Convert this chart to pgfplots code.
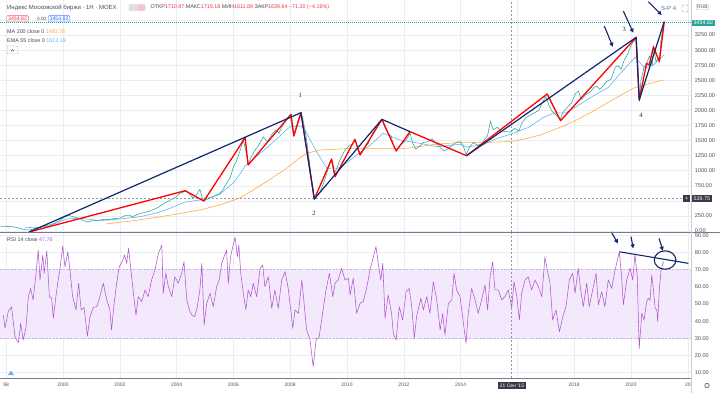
\documentclass[border=0pt]{standalone}
\usepackage{fontspec}
\setmainfont{Liberation Sans}
\newfontfamily\serifnum{Liberation Serif}
\usepackage{pgfplots}
\pgfplotsset{compat=1.18}
\usetikzlibrary{arrows.meta}
\definecolor{gridc}{RGB}{234,237,244}
\definecolor{candle}{RGB}{38,166,154}
\definecolor{candred}{RGB}{239,83,80}
\definecolor{maorange}{RGB}{255,172,64}
\definecolor{emablue}{RGB}{100,180,240}
\definecolor{navyc}{RGB}{18,38,110}
\definecolor{zzred}{RGB}{255,0,0}
\definecolor{rsipurple}{RGB}{176,86,206}
\definecolor{bandc}{RGB}{243,230,252}
\definecolor{banddash}{RGB}{200,182,216}
\definecolor{labc}{RGB}{80,84,95}
\definecolor{txtc}{RGB}{70,74,85}
\definecolor{darklab}{RGB}{54,58,69}
\definecolor{sepc}{RGB}{120,123,134}
\definecolor{crossc}{RGB}{150,152,161}
\definecolor{hdrred}{RGB}{242,54,69}
\definecolor{hdrblue}{RGB}{41,98,255}
\newcommand\fs[1]{\fontsize{#1}{#1}\selectfont}
\pgfplotsset{tvaxis/.style={
  scale only axis, width=691bp,
  xmin=1997.782, xmax=2022.113,
  axis line style={draw=none}, major tick length=0pt,
  grid=major, grid style={draw=gridc, line width=0.5pt},
  xtick={1998,2000,...,2022},
  scaled x ticks=false, scaled y ticks=false,
  yticklabel pos=right,
  /pgf/number format/assume math mode=true,
  yticklabel style={font=\fs{5.6}, text=labc, anchor=west, xshift=0.3bp},
  xticklabel style={font=\fs{5}, text=labc, yshift=-1.2bp},
  clip=false,
}}
\begin{document}
\begin{tikzpicture}
\useasboundingbox (0,0) rectangle (720bp,-393bp);
\fill[white] (0,0) rectangle (720bp,-393bp);
% ---------------- price panel ----------------
\begin{axis}[tvaxis, at={(0,0)}, anchor=north west, height=232bp,
  ymin=-16.6, ymax=3830.8, ytick={0,250,...,3500},
  yticklabels={0.00,250.00,,750.00,1000.00,1250.00,1500.00,1750.00,2000.00,2250.00,2500.00,2750.00,3000.00,3250.00,},
  xticklabels={}]
% crosshair and price lines
\addplot[crossc, line width=0.5pt, dash pattern=on 2bp off 2bp] coordinates {(2015.80,-16.6) (2015.80,3830.8)};
\addplot[crossc, line width=0.5pt, dash pattern=on 2bp off 2bp] coordinates {(1997.782,539.75) (2022.113,539.75)};
\addplot[candle, line width=0.5pt, dash pattern=on 1bp off 1bp] coordinates {(1997.782,3454.82) (2022.113,3454.82)};
% MA 200
\addplot[maorange, line width=0.6pt] coordinates {
(2001.50,116) (2002.30,160) (2003.06,210) (2004.00,280) (2004.82,348) (2005.50,431)
(2006.20,542) (2006.70,680) (2007.30,860) (2007.88,1040) (2008.30,1200) (2008.58,1289)
(2009.05,1343) (2010.20,1371) (2012.10,1371) (2013.16,1440) (2014.00,1470) (2015.00,1470)
(2015.80,1484) (2016.30,1530) (2016.80,1592) (2017.40,1700) (2017.97,1813) (2018.60,1970)
(2019.14,2118) (2019.60,2240) (2020.08,2367) (2020.60,2440) (2021.14,2504)};
% EMA 55
\addplot[emablue, line width=0.6pt] coordinates {
(1998.66,61) (1999.00,55) (1999.50,80) (2000.13,200) (2000.60,215) (2001.30,171)
(2002.00,200) (2002.71,237) (2003.30,300) (2003.77,376) (2004.30,480) (2004.82,514)
(2005.50,600) (2006.00,800) (2006.21,929) (2006.41,1080) (2006.80,1230) (2007.30,1430)
(2007.99,1730) (2008.40,1740) (2008.52,1675) (2008.93,1315) (2009.29,1040) (2009.75,1045)
(2010.34,1260) (2010.80,1420) (2011.28,1620) (2011.87,1509) (2012.57,1454) (2013.16,1398)
(2013.98,1438) (2014.20,1393) (2014.80,1430) (2015.20,1520) (2015.80,1613) (2016.40,1720)
(2016.90,1880) (2017.30,1960) (2017.70,1960) (2018.20,2100) (2018.70,2250) (2019.20,2380)
(2019.60,2600) (2020.14,2880) (2020.30,2800) (2020.50,2700) (2020.80,2760) (2021.17,2920)};
% price (close)
\addplot[candle, line width=0.55pt] coordinates {
(1997.80,75) (1997.95,80) (1998.10,72) (1998.25,70) (1998.40,55) (1998.55,35) (1998.70,20)
(1998.80,15) (1998.90,25) (1999.00,40) (1999.15,55) (1999.30,75) (1999.45,90) (1999.60,110)
(1999.75,140) (1999.90,180) (2000.05,230) (2000.20,260) (2000.30,245) (2000.45,225)
(2000.60,200) (2000.75,170) (2000.85,150) (2001.00,165) (2001.15,175) (2001.30,182)
(2001.45,195) (2001.60,190) (2001.80,205) (2002.00,215) (2002.15,250) (2002.30,265)
(2002.45,240) (2002.60,270) (2002.75,295) (2002.90,310) (2003.05,330) (2003.20,360)
(2003.35,390) (2003.50,440) (2003.65,480) (2003.80,520) (2003.95,550) (2004.10,620)
(2004.25,650) (2004.36,660) (2004.48,600) (2004.59,542) (2004.70,600) (2004.82,690)
(2004.90,560) (2004.96,500) (2005.10,530) (2005.29,569) (2005.40,600) (2005.53,625)
(2005.65,700) (2005.76,790) (2005.90,900) (2006.00,1066) (2006.10,1150) (2006.21,1300)
(2006.35,1500) (2006.45,1300) (2006.52,1110) (2006.60,1200) (2006.75,1330) (2006.90,1430)
(2007.05,1560) (2007.20,1480) (2007.35,1600) (2007.50,1680) (2007.60,1620) (2007.75,1760)
(2007.90,1880) (2008.00,1920) (2008.07,1700) (2008.13,1590) (2008.22,1750) (2008.32,1900)
(2008.38,1950) (2008.45,1850) (2008.55,1600) (2008.65,1250) (2008.75,850) (2008.85,540)
(2008.95,590) (2009.05,650) (2009.15,760) (2009.25,900) (2009.35,1050) (2009.45,1180)
(2009.55,950) (2009.65,1050) (2009.75,1180) (2009.90,1320) (2010.05,1400) (2010.20,1450)
(2010.30,1500) (2010.40,1320) (2010.50,1300) (2010.60,1380) (2010.75,1450) (2010.90,1620)
(2011.05,1720) (2011.15,1800) (2011.23,1840) (2011.35,1700) (2011.45,1620) (2011.55,1580)
(2011.65,1400) (2011.75,1330) (2011.85,1420) (2011.95,1450) (2012.10,1520) (2012.22,1620)
(2012.32,1450) (2012.42,1360) (2012.55,1400) (2012.70,1470) (2012.85,1480) (2013.00,1530)
(2013.10,1470) (2013.25,1400) (2013.40,1330) (2013.55,1360) (2013.70,1420) (2013.85,1470)
(2014.00,1480) (2014.10,1400) (2014.20,1270) (2014.30,1380) (2014.45,1470) (2014.60,1420)
(2014.75,1450) (2014.85,1520) (2014.95,1580) (2015.05,1820) (2015.15,1680) (2015.30,1720)
(2015.45,1640) (2015.60,1650) (2015.75,1640) (2015.90,1700) (2016.05,1660) (2016.15,1780)
(2016.30,1880) (2016.45,1920) (2016.60,1960) (2016.75,2000) (2016.90,2150) (2017.00,2230)
(2017.10,2100) (2017.20,2000) (2017.35,1930) (2017.50,1850) (2017.60,1960) (2017.75,2050)
(2017.90,2120) (2018.05,2280) (2018.15,2320) (2018.25,2180) (2018.40,2260) (2018.55,2300)
(2018.70,2380) (2018.80,2400) (2018.90,2350) (2019.00,2400) (2019.15,2480) (2019.30,2520)
(2019.45,2720) (2019.55,2740) (2019.65,2680) (2019.75,2820) (2019.90,2950) (2020.00,3080)
(2020.10,3150) (2020.18,3210) (2020.22,2900) (2020.27,2400) (2020.30,2150) (2020.35,2500)
(2020.45,2700) (2020.55,2780) (2020.65,2900) (2020.75,2750) (2020.80,3050) (2020.88,2800)
(2020.95,2880) (2021.00,2820) (2021.05,3150) (2021.12,3350) (2021.17,3455)};
% red zigzag
\addplot[zzred, line width=1.3pt, line join=round] coordinates {
(1998.81,-16) (2004.30,668) (2004.96,497) (2006.21,1398) (2006.41,1554) (2006.52,1095)
(2008.03,1935) (2008.13,1575) (2008.38,1962) (2008.85,530) (2009.46,1194) (2009.58,900)
(2010.28,1520) (2010.46,1260) (2011.23,1852) (2011.73,1327) (2012.22,1647) (2014.21,1249)
(2017.05,2272) (2017.52,1829) (2020.18,3212) (2020.29,2172) (2020.55,2781) (2020.64,2753)
(2020.79,3056) (2021.00,2808) (2021.17,3471)};
% navy trend lines
\addplot[navyc, line width=1.2pt, line join=round] coordinates {
(1998.81,-16) (2008.38,1962) (2008.85,530) (2011.23,1852) (2012.22,1647)};
\addplot[navyc, line width=1.2pt, line join=round] coordinates {
(2014.21,1249) (2020.18,3212) (2020.29,2172) (2021.17,3471)};
% arrows
\draw[navyc, line width=1.1pt, -{Triangle[length=4bp,width=4bp]}] (axis cs:2019.06,3400) -- (axis cs:2019.36,3056);
\draw[navyc, line width=1.1pt, -{Triangle[length=4bp,width=4bp]}] (axis cs:2019.73,3648) -- (axis cs:2020.08,3289);
\draw[navyc, line width=1.1pt, -{Triangle[length=4bp,width=4bp]}] (axis cs:2020.61,3803) -- (axis cs:2021.08,3582);
% wave labels
\node[font=\serifnum\fs{6.5}, text=navyc!80!black] at (axis cs:2008.35,2255) {1};
\node[font=\serifnum\fs{6.5}, text=navyc!80!black] at (axis cs:2008.84,298) {2};
\node[font=\serifnum\fs{6.5}, text=navyc!80!black] at (axis cs:2019.76,3345) {3};
\node[font=\serifnum\fs{6.5}, text=navyc!80!black] at (axis cs:2020.35,1924) {4};
\coordinate (lastp) at (axis cs:2022.113,3454.82);
\coordinate (crossp) at (axis cs:2022.113,539.75);
\end{axis}
% ---------------- RSI panel ----------------
\begin{axis}[tvaxis, at={(0,-232bp)}, anchor=north west, height=146bp,
  ymin=6.92, ymax=91.8, ytick={10,20,...,90},
  yticklabels={10.00,20.00,30.00,40.00,50.00,60.00,70.00,80.00,90.00},
  xticklabels={98,2000,2002,2004,2006,2008,2010,2012,2014,,2018,2020,20}]
\addplot[draw=none, fill=bandc, fill opacity=0.85] coordinates {(1997.782,30) (2022.113,30) (2022.113,70) (1997.782,70) (1997.782,30)};
\addplot[banddash, line width=0.5pt, dash pattern=on 2bp off 1.5bp] coordinates {(1997.782,30) (2022.113,30)};
\addplot[banddash, line width=0.5pt, dash pattern=on 2bp off 1.5bp] coordinates {(1997.782,70) (2022.113,70)};
\addplot[crossc, line width=0.5pt, dash pattern=on 2bp off 2bp] coordinates {(2015.80,6.92) (2015.80,91.8)};
\addplot[rsipurple, line width=0.55pt, line join=round] coordinates {
(1997.90,43.5) (1997.96,35.8) (1998.07,45.5) (1998.19,48.4) (1998.31,30.9) (1998.43,27.4)
(1998.51,38.7) (1998.60,29.0) (1998.70,36.7) (1998.78,54.2) (1998.86,59.0) (1998.95,52.3)
(1999.05,67.8) (1999.13,81.3) (1999.19,63.9) (1999.29,78.4) (1999.34,67.8) (1999.43,80.9)
(1999.52,54.2) (1999.60,53.3) (1999.66,41.6) (1999.75,54.2) (1999.83,63.9) (1999.89,69.7)
(1999.99,83.7) (2000.07,71.6) (2000.17,80.3) (2000.25,68.7) (2000.34,54.2) (2000.46,46.5)
(2000.55,62.0) (2000.64,46.5) (2000.74,48.0) (2000.86,31.3) (2000.95,42.6) (2001.07,48.0)
(2001.19,48.4) (2001.30,54.2) (2001.42,62.0) (2001.54,52.3) (2001.65,46.5) (2001.71,34.8)
(2001.80,50.3) (2001.89,62.0) (2001.98,71.6) (2002.08,74.5) (2002.17,78.4) (2002.24,73.6)
(2002.31,82.3) (2002.38,71.6) (2002.48,56.2) (2002.57,43.5) (2002.65,54.2) (2002.77,51.3)
(2002.89,58.1) (2003.00,54.2) (2003.12,63.9) (2003.24,69.7) (2003.36,79.4) (2003.48,84.2)
(2003.53,56.2) (2003.62,67.8) (2003.71,60.0) (2003.83,54.2) (2003.94,65.8) (2004.06,62.0)
(2004.18,67.8) (2004.26,74.5) (2004.36,52.3) (2004.45,46.5) (2004.54,43.5) (2004.64,42.6)
(2004.73,48.4) (2004.82,58.1) (2004.89,73.6) (2004.97,37.7) (2005.06,50.3) (2005.18,56.2)
(2005.29,48.4) (2005.41,60.0) (2005.50,63.9) (2005.59,73.6) (2005.67,77.4) (2005.76,81.3)
(2005.82,62.0) (2005.90,77.4) (2005.98,83.3) (2006.06,88.7) (2006.14,77.4) (2006.19,84.2)
(2006.26,67.8) (2006.35,56.2) (2006.44,46.5) (2006.52,58.1) (2006.61,54.2) (2006.70,62.0)
(2006.82,54.2) (2006.94,70.7) (2007.03,72.6) (2007.11,60.0) (2007.23,65.8) (2007.35,47.4)
(2007.46,58.1) (2007.58,47.4) (2007.70,63.9) (2007.82,68.7) (2007.93,59.0) (2008.02,46.5)
(2008.09,35.8) (2008.17,46.5) (2008.29,44.5) (2008.41,63.9) (2008.49,50.3) (2008.58,34.8)
(2008.70,29.0) (2008.81,13.5) (2008.91,29.0) (2009.02,30.9) (2009.14,44.5) (2009.26,58.1)
(2009.38,67.8) (2009.50,54.2) (2009.58,62.0) (2009.69,63.9) (2009.81,70.7) (2009.93,63.9)
(2010.05,64.9) (2010.11,55.2) (2010.22,64.9) (2010.34,44.5) (2010.46,50.3) (2010.57,51.3)
(2010.69,59.0) (2010.81,69.7) (2010.93,77.4) (2011.02,83.3) (2011.10,73.6) (2011.19,63.9)
(2011.26,73.6) (2011.34,41.6) (2011.45,55.2) (2011.57,44.5) (2011.63,32.9) (2011.73,29.0)
(2011.84,48.4) (2011.96,40.6) (2012.08,57.1) (2012.19,59.0) (2012.28,48.4) (2012.37,30.0)
(2012.45,42.6) (2012.60,53.3) (2012.69,46.5) (2012.81,54.2) (2012.92,44.5) (2013.04,62.9)
(2013.16,52.3) (2013.28,34.8) (2013.37,44.5) (2013.45,31.9) (2013.57,50.3) (2013.69,52.3)
(2013.77,67.8) (2013.86,58.1) (2013.98,54.2) (2014.10,38.7) (2014.19,27.1) (2014.27,44.5)
(2014.39,59.0) (2014.51,52.3) (2014.62,44.5) (2014.74,52.3) (2014.86,61.0) (2014.95,46.5)
(2015.04,65.8) (2015.13,74.5) (2015.21,58.1) (2015.33,58.1) (2015.45,52.3) (2015.56,54.2)
(2015.68,58.1) (2015.80,47.8) (2015.88,62.9) (2015.98,54.2) (2016.07,40.6) (2016.15,56.2)
(2016.27,63.9) (2016.38,65.8) (2016.50,58.1) (2016.62,63.9) (2016.74,60.0) (2016.86,54.2)
(2016.97,77.4) (2017.05,69.7) (2017.15,62.0) (2017.24,40.6) (2017.36,46.5) (2017.48,33.8)
(2017.60,42.6) (2017.71,48.4) (2017.83,63.9) (2017.95,67.8) (2018.03,56.2) (2018.14,70.7)
(2018.23,58.1) (2018.32,48.4) (2018.44,62.0) (2018.53,48.4) (2018.65,58.1) (2018.77,67.8)
(2018.85,49.4) (2018.97,57.1) (2019.08,48.4) (2019.20,63.9) (2019.32,59.0) (2019.44,69.7)
(2019.59,80.3) (2019.67,65.8) (2019.73,49.4) (2019.85,63.9) (2019.97,70.7) (2020.06,63.9)
(2020.14,79.0) (2020.22,65.8) (2020.29,24.2) (2020.38,44.5) (2020.46,40.6) (2020.55,51.3)
(2020.61,53.3) (2020.67,52.0) (2020.73,66.8) (2020.79,58.1) (2020.85,47.4) (2020.91,46.5)
(2020.94,39.7) (2021.00,59.0) (2021.06,69.7) (2021.12,73.6) (2021.16,74.5)};
\addplot[navyc, line width=1.1pt] coordinates {(2019.59,80.3) (2022.02,73.6)};
\draw[navyc, line width=1.1pt] (axis cs:2021.20,75.5) ellipse [x radius=10.8bp, y radius=9.2bp];
\draw[navyc, line width=1.1pt, -{Triangle[length=4bp,width=4bp]}] (axis cs:2019.30,91.9) -- (axis cs:2019.54,85.2);
\draw[navyc, line width=1.1pt, -{Triangle[length=4bp,width=4bp]}] (axis cs:2020.00,89.1) -- (axis cs:2020.08,82.3);
\draw[navyc, line width=1.1pt, -{Triangle[length=4bp,width=4bp]}] (axis cs:2020.99,88.1) -- (axis cs:2021.12,80.9);
\end{axis}
% ---------------- chrome ----------------
\begin{scope}[x=1bp,y=-1bp]
\draw[sepc, line width=0.8pt] (0,232) -- (720,232);
\draw[sepc, line width=0.5pt] (0,378) -- (691,378);
\draw[black!20, line width=0.5pt] (691,0) -- (691,393);
% right price labels
\node[fill=candle, text=white, font=\fs{5.4}, inner xsep=1.5bp, inner ysep=1.2bp, anchor=west] at ([xshift=1bp]lastp) {3454.82};
\node[fill=darklab, text=white, font=\fs{5.4}, inner xsep=1.5bp, inner ysep=1.2bp, anchor=west] at ([xshift=1bp]crossp) {539.75};
\node[fill=darklab, text=white, font=\fs{6}, inner sep=0.8bp, minimum size=7bp, anchor=east] at ([xshift=-0.5bp]crossp) {+};
\node[draw=black!25, rounded corners=1bp, text=labc, font=\fs{5}, inner sep=1bp, anchor=west] at (696,7) {RUB};
\node[text=navyc!70, font=\fs{6}, inner sep=0, anchor=west] at (661,8.5) {S-P 4};
\draw[black!40, line width=0.4pt, rounded corners=0.8bp] (682,5) rectangle (688,12);
% header
\node[anchor=west, text=txtc, font=\fs{6}, inner sep=0] at (7,7.5) {Индекс Московской биржи · 1Н · MOEX};
\fill[black!12, rounded corners=1.5bp] (128.5,4.2) rectangle (145.5,10.8);
\fill[hdrred!30, rounded corners=1bp] (137.5,4.8) rectangle (144.8,10.2);
\node[anchor=west, text=txtc, font=\fs{5.4}, inner sep=0] at (150.5,7.5) {ОТКР\textcolor{hdrred}{1710.87} МАКС\textcolor{hdrred}{1719.18} МИН\textcolor{hdrred}{1611.89} ЗАКР\textcolor{hdrred}{1639.64} \textcolor{hdrred}{−71.20 (−4.16\%)}};
\node[draw=hdrred!80, rounded corners=1bp, text=hdrred, font=\fs{5.2}, inner xsep=1.5bp, inner ysep=1.2bp, anchor=west] at (6.5,18.7) {3454.82};
\node[text=txtc, font=\fs{4.6}, inner sep=0, anchor=west] at (37,18.7) {0.00};
\node[draw=hdrblue!80, rounded corners=1bp, text=hdrblue, font=\fs{5.2}, inner xsep=1.5bp, inner ysep=1.2bp, anchor=west] at (48,18.7) {3454.82};
\node[anchor=west, text=txtc, font=\fs{5.4}, inner sep=0] at (7,31.7) {MA 200 close 0 \textcolor{maorange}{1483.76}};
\node[anchor=west, text=txtc, font=\fs{5.4}, inner sep=0] at (7,40.7) {EMA 55 close 0 \textcolor{emablue}{1613.19}};
\draw[black!25, line width=0.4pt, rounded corners=1bp] (7,46) rectangle (18,54);
\draw[txtc, line width=0.5pt] (11,51.2) -- (12.5,49.5) -- (14,51.2);
\node[anchor=west, text=txtc, font=\fs{5.4}, inner sep=0] at (7,240) {RSI 14 close \textcolor{rsipurple}{47.76}};
% bottom
\node[fill=darklab, text=white, font=\fs{5}, inner xsep=1.5bp, inner ysep=1.3bp] at (512,385.5) {21 Сен '15};
\draw[labc, line width=0.6pt] (707,385.5) circle (2.2bp);
\fill[emablue] (8,375) -- (11,370.5) -- (14,375) -- cycle;
\end{scope}
\end{tikzpicture}
\end{document}
